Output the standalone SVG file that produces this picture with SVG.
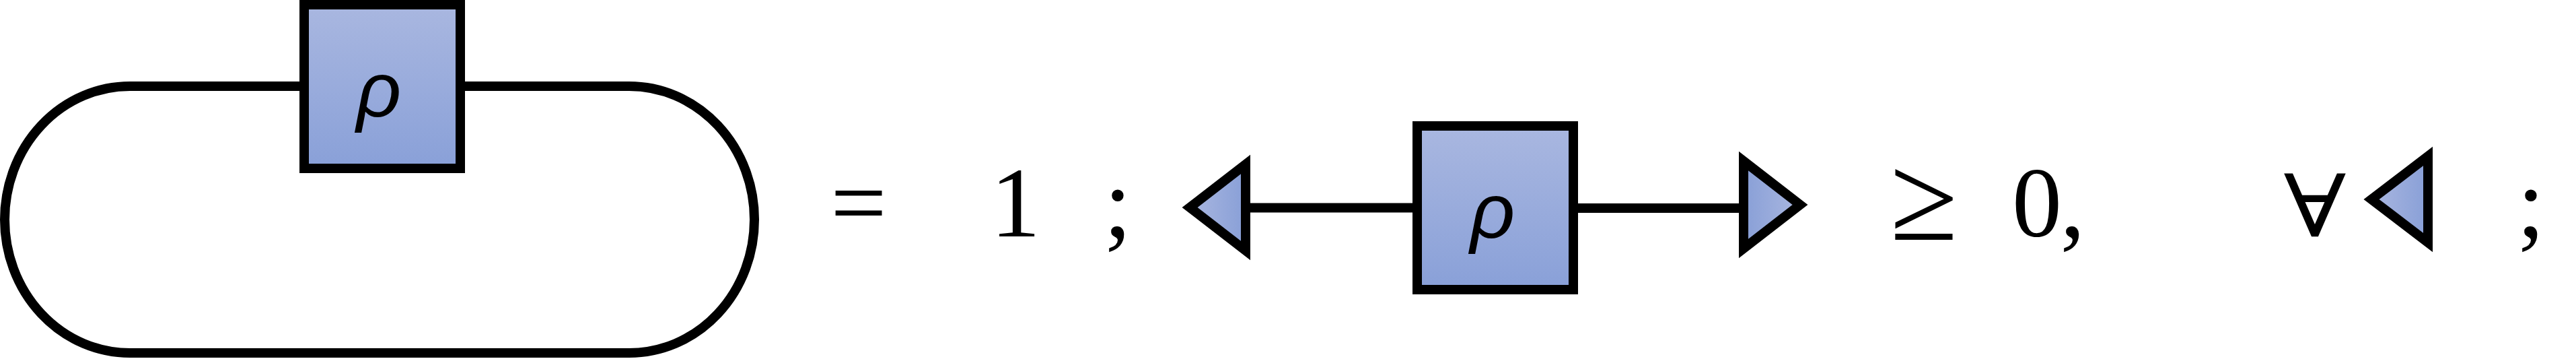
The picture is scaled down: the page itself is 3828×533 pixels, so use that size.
<svg xmlns="http://www.w3.org/2000/svg" width="3828" height="533" viewBox="0 0 3828 533">
  <defs>
    <linearGradient id="boxFill" x1="0" y1="0" x2="0" y2="1">
      <stop offset="0" stop-color="#A9B7E0"/>
      <stop offset="1" stop-color="#89A0D8"/>
    </linearGradient>
    <linearGradient id="triTipLeft" x1="0" y1="0" x2="1" y2="0">
      <stop offset="0" stop-color="#AAB7E0"/>
      <stop offset="1" stop-color="#889FD7"/>
    </linearGradient>
    <linearGradient id="triTipRight" x1="0" y1="0" x2="1" y2="0">
      <stop offset="0" stop-color="#889FD7"/>
      <stop offset="1" stop-color="#AAB7E0"/>
    </linearGradient>
  </defs>
  <style>
    .wire { fill: none; stroke: #000; stroke-width: 14; }
    .box { fill: url(#boxFill); stroke: #000; stroke-width: 14; }
    .tri { stroke: #000; stroke-width: 14; stroke-linejoin: miter; stroke-miterlimit: 10; }
    .rho { font-family: "Liberation Sans", "DejaVu Sans", sans-serif; font-style: italic; font-size: 116px; fill: #000; }
    .math { font-family: "Liberation Serif", "DejaVu Serif", serif; font-size: 148px; fill: #000; }
    .big { font-size: 183px; }
  </style>

  <g id="connectors">
    <path id="loop" class="wire" d="M 193 128 H 935 A 186 198 0 0 1 935 524 H 193 A 186 198 0 0 1 193 128 Z"/>
    <line id="wire-left" class="wire" x1="1851" y1="308.5" x2="2106" y2="308.5"/>
    <line id="wire-right" class="wire" x1="2338" y1="309" x2="2591" y2="309"/>
  </g>

  <g id="box1">
    <rect class="box" x="452" y="7" width="232" height="243"/>
    <text class="rho" x="563" y="173" text-anchor="middle">ρ</text>
  </g>

  <g id="eq1">
    <text class="math" x="1276" y="351" text-anchor="middle">=</text>
    <text class="math" x="1509" y="351" text-anchor="middle">1</text>
    <text class="math" x="1661" y="351" text-anchor="middle">;</text>
  </g>

  <g id="tri-left">
    <polygon class="tri" fill="url(#triTipLeft)" points="1851,244 1851,372 1768,308"/>
  </g>

  <g id="box2">
    <rect class="box" x="2106" y="187" width="232" height="243"/>
    <text class="rho" x="2218" y="353" text-anchor="middle">ρ</text>
  </g>

  <g id="tri-right">
    <polygon class="tri" fill="url(#triTipRight)" points="2591,239 2591,369 2675,304"/>
  </g>

  <g id="ineq">
    <text class="math big" x="2859" y="356" text-anchor="middle">≥</text>
    <text class="math" x="3027" y="351" text-anchor="middle">0</text>
    <text class="math" x="3080" y="351" text-anchor="middle">,</text>
    <text class="math" transform="translate(3440 351) scale(1.04 0.87)" x="0" y="0" text-anchor="middle">∀</text>
  </g>

  <g id="tri-forall">
    <polygon class="tri" fill="url(#triTipLeft)" points="3608,232 3608,360 3524,296"/>
  </g>

  <g id="end">
    <text class="math" x="3761" y="351" text-anchor="middle">;</text>
  </g>
</svg>
